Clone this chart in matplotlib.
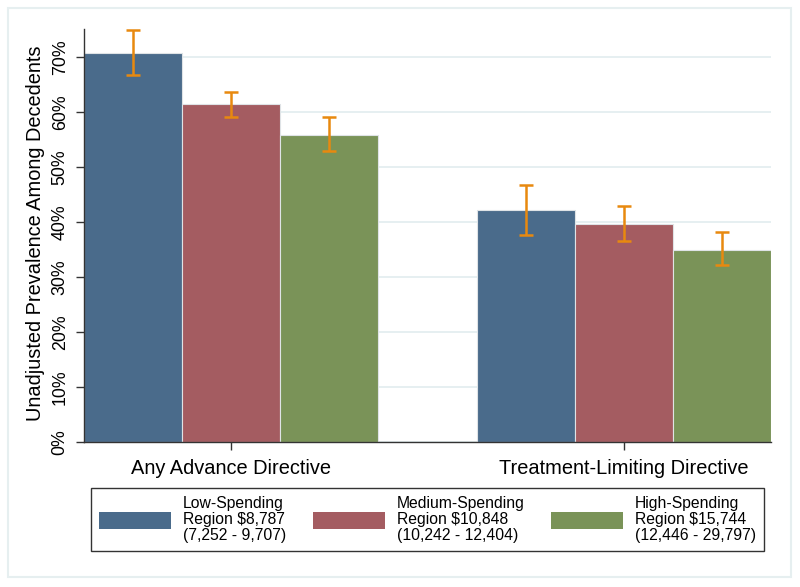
import matplotlib
matplotlib.use("Agg")
import matplotlib.pyplot as plt
from matplotlib.patches import Rectangle
import numpy as np

plt.rcParams['font.family'] = ['Liberation Sans', 'DejaVu Sans']

categories = ["Any Advance Directive", "Treatment-Limiting Directive"]
series_labels = ["Low-Spending\nRegion $8,787\n(7,252 - 9,707)",
                 "Medium-Spending\nRegion $10,848\n(10,242 - 12,404)",
                 "High-Spending\nRegion $15,744\n(12,446 - 29,797)"]
low = [70.8, 42.1]
low_lo = [66.7, 37.6]
low_hi = [75.0, 46.7]
med = [61.4, 39.7]
med_lo = [59.1, 36.6]
med_hi = [63.7, 43.0]
high = [55.9, 35.0]
high_lo = [52.9, 32.1]
high_hi = [59.1, 38.1]
yticks = [0, 10, 20, 30, 40, 50, 60, 70]
ytick_labels = ["0%", "10%", "20%", "30%", "40%", "50%", "60%", "70%"]

colors = ["#4a6b8b", "#a45c61", "#7a9358"]
err_color = "#e8890f"

fig = plt.figure(figsize=(8.0, 5.87), dpi=100)
W, H = 800, 587
fig.patches.append(Rectangle((8 / W, 10 / H), 783 / W, 569 / H, transform=fig.transFigure,
                             fill=False, edgecolor="#e6eff0", lw=1.5))

ax = fig.add_axes([84 / W, 1 - 442 / H, (771 - 84) / W, (442 - 29) / H])
centers = np.array([0.0, 4.0])
offsets = [-1.0, 0.0, 1.0]
vals = [low, med, high]
los = [low_lo, med_lo, high_lo]
his = [low_hi, med_hi, high_hi]

handles = []
for i in range(3):
    x = centers + offsets[i]
    v = np.array(vals[i])
    b = ax.bar(x, v, width=1.0, color=colors[i], edgecolor="#dfe3e6", linewidth=0.8, zorder=2)
    handles.append(b)
    yerr = [v - np.array(los[i]), np.array(his[i]) - v]
    ax.errorbar(x, v, yerr=yerr, fmt="none", ecolor=err_color, elinewidth=1.8,
                capsize=5, capthick=1.8, zorder=3)

ax.set_xlim(-1.5, 5.5)
ax.set_ylim(0, 75.1)
ax.set_yticks(yticks)
ax.set_yticklabels(ytick_labels, rotation=90, va="center", fontsize=12.8)
ax.set_xticks(centers)
ax.set_xticklabels(categories, fontsize=14.4)
ax.tick_params(axis="y", length=6, width=1, pad=5, colors="#333333", labelcolor="black")
ax.tick_params(axis="x", length=6, width=1, pad=6, colors="#333333", labelcolor="black")
ax.yaxis.grid(True, color="#e4eef0", lw=1.3, zorder=0)
ax.set_axisbelow(True)
for s in ["top", "right"]:
    ax.spines[s].set_visible(False)
for s in ["left", "bottom"]:
    ax.spines[s].set_color("#333333")
    ax.spines[s].set_linewidth(1.0)
ax.set_ylabel("Unadjusted Prevalence Among Decedents", fontsize=14.4)
ax.yaxis.set_label_coords(-0.057, 0.505)

leg = fig.legend(handles, series_labels, ncol=3, loc="lower left",
                 bbox_to_anchor=(91 / W, 1 - 551 / H, (764 - 91) / W, 64 / H),
                 mode="expand", fontsize=11.3, frameon=True, fancybox=False,
                 edgecolor="black", handlelength=4.6, handleheight=1.27,
                 handletextpad=0.75, borderpad=0.5, borderaxespad=0.0)
leg.get_frame().set_linewidth(1.0)
for t in leg.get_texts():
    t.set_linespacing(1.1)
for p in leg.get_patches():
    p.set_edgecolor("none")

fig.savefig("out.png", dpi=100, facecolor="white")
